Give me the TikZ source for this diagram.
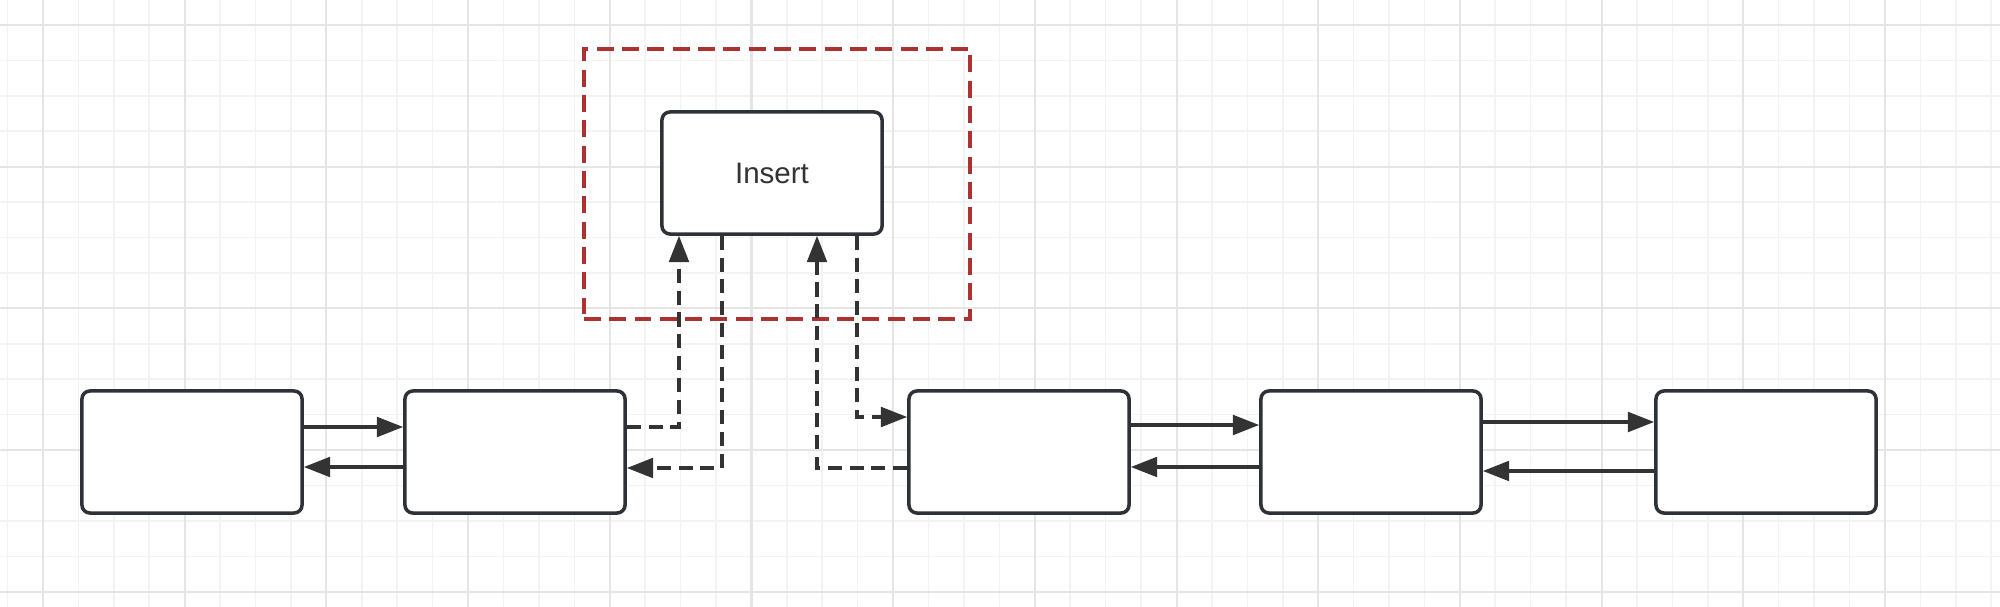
\documentclass[tikz,border=0pt]{standalone}
\usepackage{fontspec}
\setmainfont{Liberation Sans}
\usetikzlibrary{arrows.meta,positioning}
\definecolor{boxline}{RGB}{45,50,56}
\definecolor{linkgray}{RGB}{51,51,51}
\definecolor{groupred}{RGB}{172,50,50}
\definecolor{gridminor}{RGB}{243,243,243}
\definecolor{gridmajor}{RGB}{229,229,229}
\tikzstyle{box} = [draw=boxline, line width=1pt, rounded corners=2.3pt, fill=white, minimum width=2.2cm, minimum height=1.22cm, inner sep=0pt, text=linkgray, font=\fontsize{8.4}{10}\selectfont]
\tikzstyle{arrow} = [line width=0.95pt, color=linkgray, -{Triangle[length=7.5pt,width=5.6pt]}]
\tikzstyle{dasharrow} = [arrow, dash pattern=on 4pt off 2.2pt]
\tikzstyle{area} = [draw=groupred, line width=1.15pt, dash pattern=on 4.8pt off 2.4pt, minimum width=3.86cm, minimum height=2.7cm, inner sep=0pt]

\begin{document}
\begin{tikzpicture}[x=0.01cm, y=-0.01cm]
\useasboundingbox (0,0) rectangle (2000,607);
% background grid
\foreach \i in {0,...,56}
  \draw[gridminor, line width=0.45pt] ({7.6+35.42*\i},0) -- ({7.6+35.42*\i},607);
\foreach \j in {-1,...,16}
  \draw[gridminor, line width=0.45pt] (0,{25+35.42*\j}) -- (2000,{25+35.42*\j});
\foreach \i in {0,...,13}
  \draw[gridmajor, line width=0.6pt] ({43+141.7*\i},0) -- ({43+141.7*\i},607);
\foreach \j in {0,...,4}
  \draw[gridmajor, line width=0.6pt] (0,{25+141.7*\j}) -- (2000,{25+141.7*\j});

% group around the new element
\node[area] (grp) at (777,184) {};
\node[box] (ins) at (772,173) {Insert};

% list elements
\node[box] (n1) at (192,452) {};
\node[box] (n2) at (515,452) {};
\node[box] (n3) at (1019,452) {};
\node[box] (n4) at (1371,452) {};
\node[box] (n5) at (1766,452) {};

% links between neighbours
\draw[arrow] (n1.east |- 0,427) -- (n2.west |- 0,427);
\draw[arrow] (n2.west |- 0,467) -- (n1.east |- 0,467);
\draw[arrow] (n3.east |- 0,425) -- (n4.west |- 0,425);
\draw[arrow] (n4.west |- 0,467) -- (n3.east |- 0,467);
\draw[arrow] (n4.east |- 0,422) -- (n5.west |- 0,422);
\draw[arrow] (n5.west |- 0,471) -- (n4.east |- 0,471);

% new links through the inserted element
\draw[dasharrow] (n2.east |- 0,427) -- (679,427) -- (679,0 |- ins.south);
\draw[dasharrow] (722,0 |- ins.south) -- (722,468) -- (n2.east |- 0,468);
\draw[dasharrow] (857,0 |- ins.south) -- (857,417) -- (n3.west |- 0,417);
\draw[dasharrow] (n3.west |- 0,468) -- (817,468) -- (817,0 |- ins.south);
\end{tikzpicture}
\end{document}
